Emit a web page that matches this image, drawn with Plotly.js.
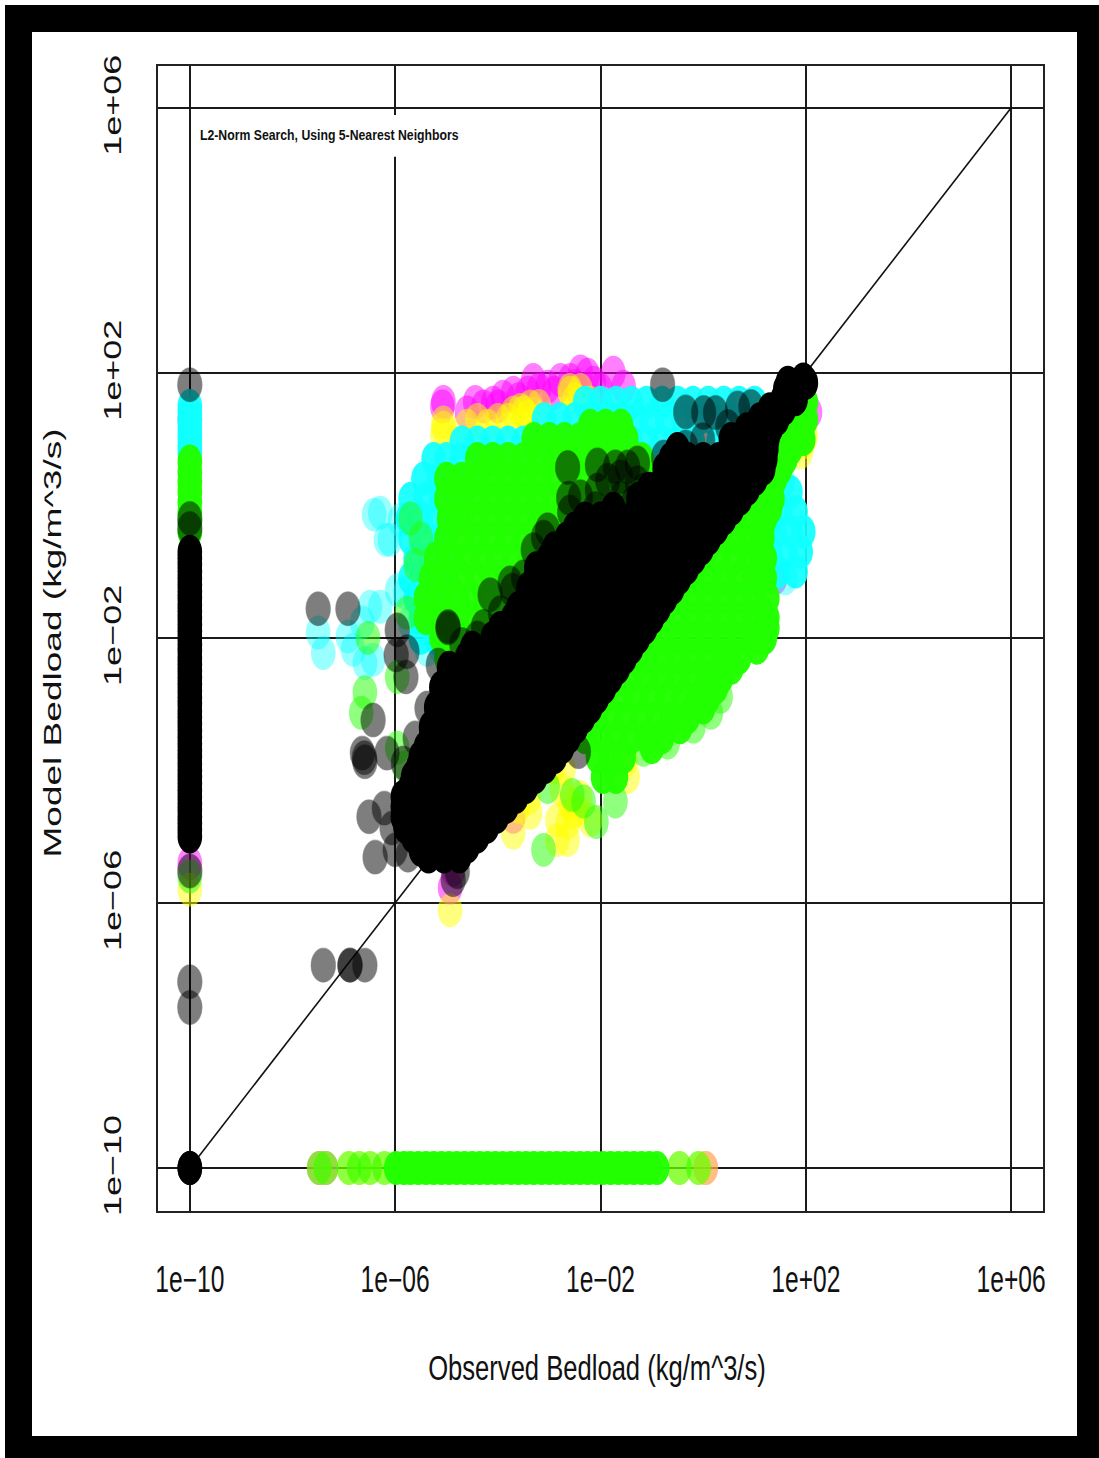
<!DOCTYPE html>
<html><head><meta charset="utf-8">
<script src="https://cdn.plot.ly/plotly-3.0.1.min.js"></script>
<style>
html,body{margin:0;padding:0;background:#fff;width:1099px;height:1458px;overflow:hidden}
#frame{position:absolute;left:5px;top:5px;width:1094px;height:1453px;background:#000}
#plot{position:absolute;left:32px;top:32px;width:1045px;height:1404px;background:#fff}
</style></head><body>
<div id="frame"></div><div id="plot"></div>
<script>
// All values are log10 of bedload.
// "Rows" arrays: first number is log10(model), the rest are log10(observed).
const tickVals = [1e-10, 1e-6, 1e-2, 1e2, 1e6];
const tickLabels = ['1e\u221210', '1e\u221206', '1e\u221202', '1e+02', '1e+06'];
const oneToOne = [1e-10, 1e6];

const magentaX = [-5.08,-5.06,-4.44,-4.09,-3.7,-3.31,-2.78,-2.39,-2.25,-1.75,-1.55,-2.59,-3.03,-3.42,-3.9,-4.28,-4,-2.13,-4.6,-3.6,-3.2,-2.9,-2.5,-2,2.08,1.4,-4.93,-10,-10,-7.48,-7.35,0.05,-4.87,-3.7];
const magentaY = [1.49,1.56,1.56,1.55,1.7,1.89,1.89,2.02,1.97,2,1.79,1.89,1.79,1.7,1.64,1.49,1.49,1.85,1.4,1.6,1.75,1.7,1.8,1.75,1.4,-1.1,-5.77,1.3,-5.4,-10,-10,-10,-5.5,-4.7];

const yellowX = [-5.06,-5.06,-5.08,-4.4,-4,-3.56,-3.37,-2.39,-2.59,-2.6,-3.42,-3.8,-4.6,-4.2,-3.7,-3.5,-3.2,-2.2,-2.5,
  -2.72,-2.92,-3.7,-3.37,-2.64,-2.84,-2.64,-2.84,-1.47,-3.4,-4.93,-2.53,-2.2,-2.6,-2.4,-2.75,-2.45,-1.5,
  1.9,1.95,1.9,2,-10,-10,-7.48,-7.35,-6.9,-6.7,-6.49,-6.21,-0.46,-0.09,0.05,-3.6];
const yellowY = [1.17,1.25,1.06,1.29,1.29,1.44,1.49,1.74,1.7,1.74,1.34,1.29,1.2,1.2,1.4,1.4,1.5,1.55,1.6,
  -3.99,-3.95,-4.94,-4.64,-4.79,-4.75,-5.05,-5.05,-4.1,-4.42,-6.11,-4.64,-4.75,-4.5,-4.4,-4.3,-4.6,-3.85,
  0.8,0.95,1,1.05,0.3,-5.8,-10,-10,-10,-10,-10,-10,-10,-10,-10,-4.55];

const cyanRows = [
 [1.55,-2.3,-2,-1.7,-1.4,-1.1,-0.8,-0.5,-0.2,0.1,0.4,0.7,1],
 [1.3,-3.1,-2.8,-2.5,-2.2,-1.9,-1.6,-1.3,-1,-0.7,-0.4,-0.1,0.2,0.5,0.9],
 [0.95,-4.7,-4.4,-4.1,-3.8,-3.5,-3.2,-2.9,-2.6,-2.3,-2,-1.7,-1.4,-1.1,-0.8,-0.5,-0.2,0.3],
 [0.7,-5.25,-5,-4.7,-4.4,-4.1,-1.3,-1,-0.5],
 [0.4,-5.45,-5.15,-4.85,-4.6],
 [0.1,-5.7,-5.4,-5.1,-4.8],
 [-0.2,-5.75,-5.5,-5.2,-4.9],
 [-0.5,-5.7,-5.4,-5.1],
 [-0.8,-5.6,-5.3,-5],
 [-1.1,-5.7,-5.4,-5.1],
 [-1.4,-5.6,-5.3,-5],
 [-1.7,-5.5,-5.3,-5],
 [-2,-5.5,-5.2,-4.9,-4.6],
 [0.2,1.7],[-0.1,1.5,1.8],[-0.4,1.4,1.7,1.95],[-0.7,1.3,1.6,1.9],[-1,1.45,1.8],
 [1.5,-10],[1.4,-10],[1.3,-10],[1.2,-10],[1.1,-10],[1,-10],[0.9,-10],[0.8,-10]
];
const cyanSparseX = [-6.41,-6.18,-6.29,-6.1,-5.9,-7.5,-7.4,-6.92,-6.82,-6.59,-6.43,-6.49,-6.29,-6.64,-5.8,-5.96,-5.12,-5.38,-5.71,1.6,1.25,1.55];
const cyanSparseY = [-0.14,-0.52,-0.11,-0.52,-0.22,-1.92,-2.23,-1.98,-2.18,-2.38,-2.33,-1.53,-1.53,-1.77,-1.32,-1.28,-2.14,-2.18,-1.77,-1.1,-0.3,0.35];

const greenRows = [
 [1.2,-2.2,-1.9,-1.6],
 [1,-3.3,-3,-2.7,-2.4,-2.1,-1.8,-1.5],
 [0.7,-4.4,-4.1,-3.8,-3.5,-3.2,-2.9,-2.6,-2.3,-2,-1.7,-1.4,-1.2],
 [0.4,-5,-4.7,-4.4,-4.1,-3.8,-3.5,-3.2,-2.9,-2.6,-2.3,-2,-1.7,-1.4,-1.1,-0.8],
 [0.1,-5,-4.7,-4.4,-4.1,-3.8,-3.5,-3.2,-2.9,-2.6,-2.3,-2,-1.7,-1.4,-1.1],
 [-0.2,-4.95,-4.7,-4.4,-4.1,-3.8,-3.5,-3.2,-2.9,-2.6,-2.3,-2],
 [-0.5,-5,-4.7,-4.4,-4.1,-3.8,-3.5,-3.2,-2.9,-2.6,-2.3],
 [-0.8,-5.2,-4.9,-4.6,-4.3,-4,-3.7,-3.4,-3.1,-2.8,-2.6],
 [-1.1,-5.3,-5,-4.7,-4.4,-4.1,-3.8,-3.5,-3.2,-3],
 [-1.4,-5.4,-5.1,-4.8,-4.5,-4.2,-3.9,-3.6,-3.3],
 [-1.7,-5.4,-5.1,-4.8,-4.5,-4.2,-3.9,-3.6],
 [-2,-5.1,-4.8,-4.5,-4.2],
 [-2.3,-5,-4.7],
 [1.55,1.7,2],
 [1.3,1.6,1.95,2],
 [1,1.5,1.85,1.95],
 [0.85,1.7],[0.7,1.3,1.6],[0.55,1.5],
 [0.4,1.1,1.4],[0.25,1.25],
 [0.1,0.9,1.2,1.35],[-0.05,1.3],
 [-0.2,0.6,0.9,1.2],[-0.35,1.15],
 [-0.5,0.3,0.6,0.9,1.15],[-0.65,1.1],
 [-0.8,0,0.3,0.6,0.9,1.2],[-0.95,1.15],
 [-1.1,-0.2,0.1,0.4,0.7,1,1.2],
 [-1.4,-0.5,-0.2,0.1,0.4,0.7,1,1.25],
 [-1.7,-0.8,-0.5,-0.2,0.1,0.4,0.7,1,1.25],[-1.85,1.25],
 [-2,-1.1,-0.8,-0.5,-0.2,0.1,0.4,0.7,1,1.2],[-2.15,1.05],
 [-2.3,-1.4,-1.1,-0.8,-0.5,-0.2,0.1,0.4,0.7],[-2.45,0.55],
 [-2.6,-1.7,-1.4,-1.1,-0.8,-0.5,-0.2,0.1,0.35],[-2.75,0.25],
 [-2.9,-1.9,-1.6,-1.3,-1,-0.7,-0.4,-0.1,0.1],[-3.05,0],
 [-3.2,-2.1,-1.8,-1.5,-1.2,-0.9,-0.6,-0.3],[-3.35,-0.45],
 [-3.5,-2.3,-2,-1.7,-1.4,-1.1,-0.8],[-3.65,-1],
 [-3.8,-2.05,-1.8,-1.55],
 [-4.1,-1.95,-1.7],
 [0.66,-10],[0.5,-10],[0.35,-10],[0.2,-10],[0.05,-10],[-0.1,-10],[-0.25,-10],[-0.4,-10],
 [-10,-5.98,-5.83,-5.7,-5.55,-5.4,-5.25,-5.1,-4.95,-4.8,-4.65,-4.5,-4.35,-4.2,-4.05,-3.9,-3.75,-3.6,-3.45,-3.3,-3.15,-3,-2.85,-2.7,-2.55,-2.4,-2.25,-2.1,-1.95,-1.8,-1.65,-1.5,-1.35,-1.2,-1.05,-0.9]
];
const greenSparseX = [-3.11,-3.03,-2.55,-2.33,-2.08,-1.71,-6.59,-6.66,-5.96,-6.53,-5.77,-5.96,-5.8,-0.19,0.15,0.34,-0.69,-1.16,-5.6,-5.5,-5.7,-10,
  -7.48,-7.35,-6.9,-6.7,-6.49,-6.21,-0.46,-0.09];
const greenSparseY = [-5.2,-4.25,-4.37,-4.47,-4.78,-4.47,-2.82,-3.13,-2.59,-2,-1.62,-3.66,-3.95,-3.34,-3.13,-2.89,-3.58,-3.69,-0.9,-0.5,-0.2,-5.6,
  -10,-10,-10,-10,-10,-10,-10,-10];

const blackSparseX = [-2.64,-2.06,-1.71,-1.28,-2.06,-2.62,-1.61,-1.28,-3.03,-3.31,-3.11,-3.72,-3.76,-4.15,-4.97,-4.28,-3.95,-3.5,-2.39,-1.86,-1.47,-1.16,-1.36,-1.6,-2.1,-2.6,
  -0.34,0.01,0.24,0.67,0.93,-0.01,-0.34,-0.77,0.48,-0.79,
  -7.5,-6.92,-5.96,-5.77,-5.98,-5.79,-6.43,-6.64,-6.6,-6.59,-6.16,-5.84,-6.51,-6.21,-6.06,-6.39,-5.75,-5.61,-5.38,-4.79,-4.87,-2.43,-4.97,-5.16,-4.7,-4.4,-6,
  -7.4,-6.88,-6.88,-6.59,-10,-10,-10,-10,-10,-10];
const blackSparseY = [0.57,0.61,0.58,0.64,0.23,0.11,0.43,0.34,-0.37,-0.67,-0.48,-1.28,-1.17,-1.35,-1.83,-1.83,-1.62,-1.08,0.13,0.38,0.58,0.23,0.04,0.1,-0.05,-0.1,
  1.41,1.4,1.4,1.47,1.49,0.99,0.88,0.73,1.19,1.82,
  -1.56,-1.56,-1.88,-2.21,-2.26,-2.59,-3.24,-3.74,-3.81,-3.87,-3.74,-3.89,-4.7,-4.57,-4.87,-5.31,-5.28,-3.51,-3.06,-5.53,-5.65,-3.72,-1.85,-2.41,-2.1,-2,-5.2,
  -6.94,-6.94,-6.94,-6.94,1.82,-0.2,-0.35,-5.52,-7.19,-7.58];

const blackRows = [
 [-5.3,-5.35,-5.05,-4.75],
 [-5,-5.65,-5.35,-5.05,-4.75,-4.45],
 [-4.7,-5.85,-5.55,-5.25,-4.95,-4.65,-4.35,-4.15],
 [-4.4,-5.85,-5.55,-5.25,-4.95,-4.65,-4.35,-4.05,-3.75],
 [-4.1,-5.65,-5.35,-5.05,-4.75,-4.45,-4.15,-3.85,-3.55,-3.36],
 [-3.8,-5.5,-5.2,-4.9,-4.6,-4.3,-4,-3.7,-3.4,-3.1,-2.98],
 [-3.5,-5.3,-5,-4.7,-4.4,-4.1,-3.8,-3.5,-3.2,-2.9,-2.7],
 [-3.2,-5.18,-4.9,-4.6,-4.3,-4,-3.7,-3.4,-3.1,-2.8,-2.45],
 [-2.9,-5.07,-4.8,-4.5,-4.2,-3.9,-3.6,-3.3,-3,-2.7,-2.4,-2.16],
 [-2.6,-4.96,-4.7,-4.4,-4.1,-3.8,-3.5,-3.2,-2.9,-2.6,-2.3,-2,-1.89],
 [-2.3,-4.6,-4.3,-4,-3.7,-3.4,-3.1,-2.8,-2.5,-2.2,-1.9,-1.63],
 [-2,-4.1,-3.8,-3.5,-3.2,-2.9,-2.6,-2.3,-2,-1.7,-1.37],
 [-1.7,-3.7,-3.4,-3.1,-2.8,-2.5,-2.2,-1.9,-1.6,-1.3,-1.1],
 [-1.4,-3.43,-3.1,-2.8,-2.5,-2.2,-1.9,-1.6,-1.3,-1,-0.83],
 [-1.1,-3.26,-3,-2.7,-2.4,-2.1,-1.8,-1.5,-1.2,-0.9,-0.56],
 [-0.8,-3,-2.7,-2.4,-2.1,-1.8,-1.5,-1.2,-0.9,-0.6,-0.27],
 [-0.5,-2.66,-2.4,-2.1,-1.8,-1.5,-1.2,-0.9,-0.6,-0.3,0],
 [-0.2,-2.3,-2,-1.7,-1.4,-1.1,-0.8,-0.5,-0.2,0.1,0.32],
 [0.1,-1.26,-0.95,-0.65,-0.35,-0.05,0.25,0.63],
 [0.4,-0.74,-0.45,-0.15,0.15,0.45,0.75,0.93],
 [0.7,-0.63,-0.3,0,0.3,0.6,0.9,1.13],
 [1,0.54,0.85,1.16],
 [1.3,1.1,1.36],
 [1.6,1.55,1.8],
 [1.85,1.65,1.9,2],
 [-10,-10],[-10,-10]
];
// extra marks along the lower-right edge of the black band
const blackLowerEdgeX = [-4.59,-4.4,-4.21,-4.02,-3.83,-3.64,-3.45,-3.27,-3.08,-2.89,-2.75,-2.62,-2.48,-2.34,-2.2,-2.07,-1.93,-1.8,-1.66,-1.53,-1.4,-1.27,-1.13,-1,-0.87,-0.74,-0.6,-0.47,-0.32,-0.18,-0.03,0.11,0.26,0.41,0.56,0.72,0.87,1.02,1.17,1.21,1.23,1.25,1.31,1.44,1.57,1.7,1.82,1.95];
const blackLowerEdgeY = [-5.15,-5,-4.85,-4.7,-4.55,-4.4,-4.25,-4.1,-3.95,-3.8,-3.65,-3.5,-3.35,-3.2,-3.05,-2.9,-2.75,-2.6,-2.45,-2.3,-2.15,-2,-1.85,-1.7,-1.55,-1.4,-1.25,-1.1,-0.95,-0.8,-0.65,-0.5,-0.35,-0.2,-0.05,0.1,0.25,0.4,0.55,0.7,0.85,1,1.15,1.3,1.45,1.6,1.75,1.9];
// and along its upper-left edge
const blackUpperEdgeX = [-5.5,-5.8,-5.85,-5.7,-5.55,-5.4,-5.3,-5.2,-5.1,-4.95,-4.5,-3.95,-3.6,-3.4,-3.25,-2.9,-2.5,-1.75,-1.05,-0.75,-0.5,0.85,1.3,1.6];
const blackUpperEdgeY = [-5.2,-4.85,-4.55,-4.25,-3.95,-3.65,-3.35,-3.05,-2.75,-2.45,-2.15,-1.85,-1.55,-1.25,-0.95,-0.65,-0.35,-0.05,0.25,0.55,0.85,1.15,1.45,1.75];
// the column of zero observations (drawn at 1e-10)
const blackColumnY = [-0.7,-0.8,-0.9,-1,-1.1,-1.2,-1.3,-1.4,-1.5,-1.6,-1.7,-1.8,-1.9,-2,-2.1,-2.2,-2.3,-2.4,-2.5,-2.6,-2.7,-2.8,-2.9,-3,-3.1,-3.2,-3.3,-3.4,-3.5,-3.6,-3.7,-3.8,-3.9,-4,-4.1,-4.2,-4.3,-4.4,-4.5,-4.6,-4.7,-4.8,-4.9,-5];

const flatX = rows => rows.flatMap(r => r.slice(1).map(v => 10 ** v));
const flatY = rows => rows.flatMap(r => r.slice(1).map(() => 10 ** r[0]));
const pow = a => a.map(v => 10 ** v);

const markerSize = 29;
function pts(x, y, color, opacity, rim) {
  return {type:'scatter', mode:'markers', x, y, hoverinfo:'skip',
    marker:{size:markerSize, color, opacity, line:{width:rim?1:0, color:'rgba(0,0,0,0.5)'}}};
}
const blackX = flatX(blackRows).concat(pow(blackLowerEdgeX), pow(blackUpperEdgeX), blackColumnY.map(() => 1e-10));
const blackY = flatY(blackRows).concat(pow(blackLowerEdgeY), pow(blackUpperEdgeY), pow(blackColumnY));
const data = [
  {type:'scatter', mode:'lines', x:oneToOne, y:oneToOne, hoverinfo:'skip', line:{color:'#111', width:1.6}},
  pts(pow(magentaX), pow(magentaY), '#ff00ff', 0.5),
  pts(pow(yellowX), pow(yellowY), '#ffff00', 0.5),
  pts(flatX(cyanRows), flatY(cyanRows), '#10ffff', 0.92),
  pts(pow(cyanSparseX), pow(cyanSparseY), '#00ffff', 0.4),
  pts(flatX(greenRows), flatY(greenRows), '#22ff00', 0.97),
  pts(pow(greenSparseX), pow(greenSparseY), '#22ff00', 0.5),
  pts(pow(blackSparseX), pow(blackSparseY), '#000', 0.5, true),
  pts(blackX, blackY, '#000', 1)
];
const axisFont = {family:'Liberation Sans, Arial, sans-serif', size:30, color:'#111'};
function axis(range, titleText, angle) {
  return {type:'log', range, tickmode:'array', tickvals:tickVals, ticktext:tickLabels, tickangle:angle,
    tickfont:axisFont, ticks:'', showgrid:true, gridcolor:'#1a1a1a', gridwidth:2, zeroline:false,
    showline:true, linecolor:'#222', linewidth:2, mirror:true, automargin:false,
    title:{text:titleText, font:axisFont}};
}
const layout = {
  width:1045, height:1404, paper_bgcolor:'#fff', plot_bgcolor:'#fff', showlegend:false, hovermode:false,
  margin:{l:126, r:34, t:34, b:225},
  xaxis:axis([-10.62, 6.62], 'Observed Bedload (kg/m^3/s)', 0),
  yaxis:axis([-10.65, 6.63], 'Model Bedload (kg/m^3/s)', -90),
  shapes:[{type:'rect', layer:'between', xref:'x', yref:'y', x0:10**-9.8, x1:10**-4.73, y0:10**5.26, y1:10**5.89,
    fillcolor:'#fff', line:{width:0}}],
  annotations:[{text:'<b>L2-Norm Search, Using 5-Nearest Neighbors</b>', xref:'x', yref:'y', x:-9.82, y:5.58,
    xanchor:'left', yanchor:'middle', showarrow:false, align:'left', borderpad:0,
    font:{family:'Liberation Sans, Arial, sans-serif', size:14.5, color:'#111'}}]
};
Plotly.newPlot('plot', data, layout, {displayModeBar:false, staticPlot:true}).then(gd => {
  // The reference picture is stretched vertically: make marks and text follow that.
  gd.querySelectorAll('.scatterlayer path.point').forEach(p => {
    p.setAttribute('transform', (p.getAttribute('transform')||'') + ' scale(0.85,1.17)');
  });
  const box = gd.querySelector('.main-svg').getBoundingClientRect();
  function place(el, tx, ty, a, b) {
    const r = el.getBoundingClientRect();
    const px = r.left + r.width/2 - box.left, py = r.top + r.height/2 - box.top;
    const m = el.parentNode.getCTM ? el.parentNode.getCTM() : null;
    const ox = m ? m.e : 0, oy = m ? m.f : 0;
    const old = el.getAttribute('transform') || '';
    el.setAttribute('transform', `translate(${tx-ox} ${ty-oy}) scale(${a} ${b}) translate(${-(px-ox)} ${-(py-oy)}) ${old}`);
  }
  const a = 0.82, b = 1.2;
  gd.querySelectorAll('.xtick text').forEach(t => {
    const r = t.getBoundingClientRect();
    place(t, r.left + r.width/2 - box.left, 1279 - 32, a, b);
  });
  gd.querySelectorAll('.ytick text').forEach(t => {
    const r = t.getBoundingClientRect();
    place(t, 112 - 32, r.top + r.height/2 - box.top + 2, a, b);
  });
  const xt = gd.querySelector('.xtitle'), yt = gd.querySelector('.ytitle');
  if (xt) place(xt, 597 - 32, 1367 - 32, 0.853, 1.2);
  if (yt) place(yt, 52 - 32, 643 - 32, 0.82, 1.235);
  const note = gd.querySelector('.annotation-text');
  if (note) { const w = note.getBoundingClientRect().width; place(note, 329.5 - 32, 135 - 32, 259 / w, 1); }
});
</script>
</body></html>
